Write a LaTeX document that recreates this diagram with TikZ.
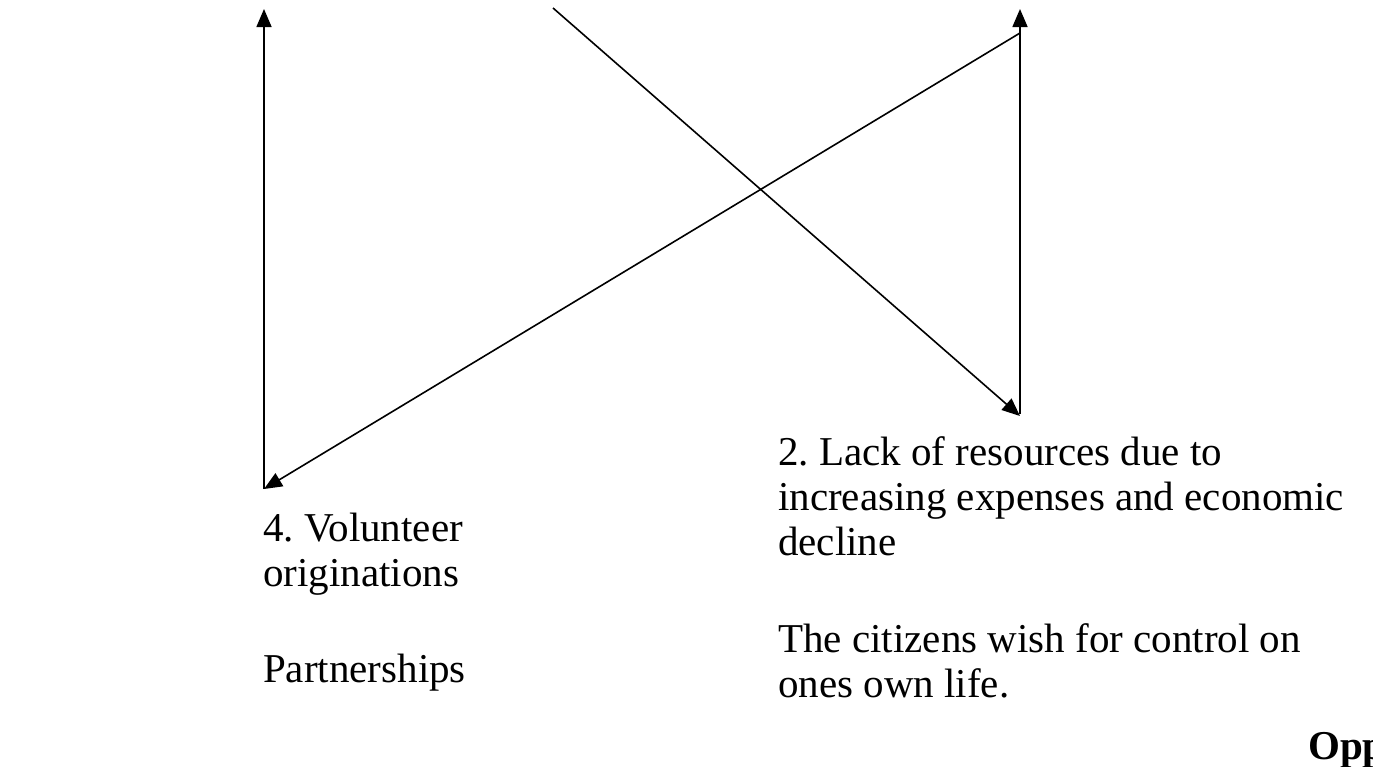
\documentclass[tikz,border=0pt]{standalone}
\usepackage{fontspec}
\setmainfont{Liberation Serif}
\usepackage{tikz}
\usetikzlibrary{arrows.meta}
\frenchspacing

\begin{document}
\begin{tikzpicture}[x=1pt,y=-1pt,
  link/.style={line width=1.6pt,-{Triangle[length=18pt,width=15pt]}},
  txt/.style={anchor=base west,inner sep=0pt,align=left,font=\fontsize{41}{45}\selectfont}]
\clip (0,0) rectangle (1373,766);
\coordinate (lt) at (264,9);
\coordinate (lb) at (264,489);
\coordinate (dtop) at (553,8);
\coordinate (rb) at (1020,416);
\coordinate (rt) at (1020,9);
\coordinate (rj) at (1020,33);
\draw[link] (lb) -- (lt);
\draw[link] (dtop) -- (rb);
\draw[link] (1020,414) -- (rt);
\draw[link] (rj) -- (lb);
% last-line baselines
\node[txt] (vol) at (263,586) {4. Volunteer\\originations};
\node[txt] (part) at (263,682) {Partnerships};
\node[txt] (lack) at (778,555) {2. Lack of resources due to\\increasing expenses and economic\\decline};
\node[txt] (cit) at (778,697) {The citizens wish for control on\\ones own life.};
\node[txt,font=\fontsize{41}{45}\selectfont\bfseries] (opp) at (1308,759) {Opp};
\end{tikzpicture}
\end{document}
